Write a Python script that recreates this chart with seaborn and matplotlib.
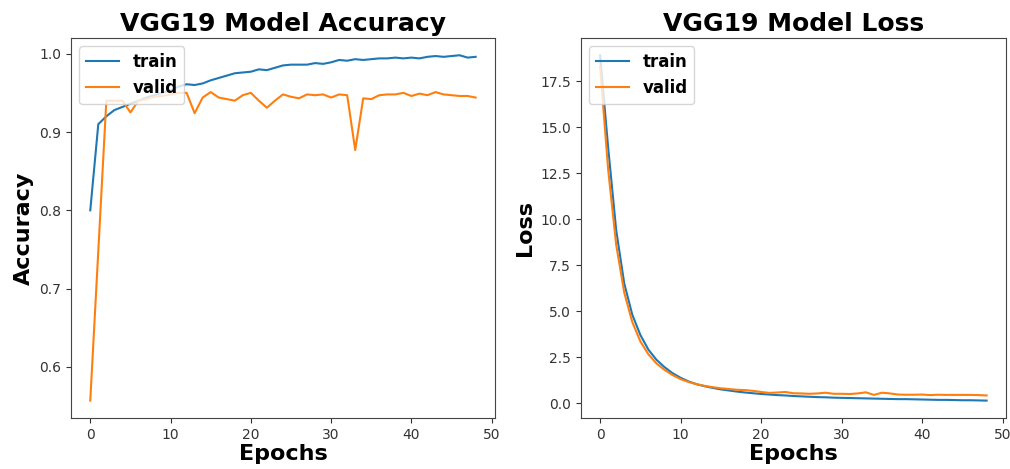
import numpy as np
import pandas as pd
import matplotlib
matplotlib.use("Agg")
import matplotlib.pyplot as plt
import seaborn as sns

epochs = list(range(49))

train_acc = [0.800, 0.910, 0.920, 0.928, 0.932, 0.936, 0.940, 0.944, 0.947, 0.950,
             0.953, 0.958, 0.961, 0.960, 0.962, 0.966, 0.969, 0.972, 0.975, 0.976,
             0.977, 0.980, 0.979, 0.982, 0.985, 0.986, 0.986, 0.986, 0.988, 0.987,
             0.989, 0.992, 0.991, 0.993, 0.992, 0.993, 0.994, 0.994, 0.995, 0.994,
             0.995, 0.994, 0.996, 0.997, 0.996, 0.997, 0.998, 0.995, 0.996]

valid_acc = [0.557, 0.748, 0.940, 0.940, 0.940, 0.925, 0.940, 0.942, 0.945, 0.946,
             0.948, 0.950, 0.950, 0.924, 0.944, 0.951, 0.944, 0.942, 0.940, 0.947,
             0.950, 0.940, 0.931, 0.940, 0.948, 0.945, 0.943, 0.948, 0.947, 0.948,
             0.944, 0.948, 0.947, 0.877, 0.943, 0.942, 0.947, 0.948, 0.948, 0.950,
             0.946, 0.949, 0.947, 0.951, 0.948, 0.947, 0.946, 0.946, 0.944]

train_loss = [18.9, 13.9, 9.4, 6.5, 4.8, 3.7, 2.9, 2.35, 1.95, 1.62,
              1.37, 1.17, 1.02, 0.91, 0.82, 0.74, 0.68, 0.62, 0.57, 0.53,
              0.49, 0.46, 0.43, 0.41, 0.38, 0.36, 0.34, 0.32, 0.31, 0.29,
              0.28, 0.27, 0.26, 0.25, 0.24, 0.23, 0.22, 0.21, 0.21, 0.20,
              0.19, 0.18, 0.17, 0.17, 0.16, 0.15, 0.15, 0.14, 0.13]

valid_loss = [18.3, 12.7, 8.6, 6.0, 4.4, 3.35, 2.65, 2.15, 1.8, 1.52,
              1.30, 1.14, 1.02, 0.93, 0.86, 0.80, 0.76, 0.72, 0.70, 0.66,
              0.60, 0.55, 0.57, 0.60, 0.53, 0.52, 0.50, 0.52, 0.56, 0.50,
              0.50, 0.49, 0.52, 0.58, 0.44, 0.56, 0.52, 0.46, 0.45, 0.45,
              0.46, 0.43, 0.45, 0.44, 0.44, 0.44, 0.44, 0.43, 0.41]

series_names = ["train", "valid"]
colors = ["#1f77b4", "#ff7f0e"]

acc_df = pd.DataFrame({
    "epoch": epochs * 2,
    "value": train_acc + valid_acc,
    "series": [series_names[0]] * len(epochs) + [series_names[1]] * len(epochs),
})
loss_df = pd.DataFrame({
    "epoch": epochs * 2,
    "value": train_loss + valid_loss,
    "series": [series_names[0]] * len(epochs) + [series_names[1]] * len(epochs),
})

plt.rcParams["font.family"] = ["DejaVu Sans"]

fig = plt.figure(figsize=(10.1, 4.69), dpi=100)
ax1 = fig.add_axes([0.0703, 0.109, 0.4197, 0.810])
ax2 = fig.add_axes([0.575, 0.109, 0.421, 0.810])

palette = dict(zip(series_names, colors))

for ax, df, title, ylabel in [
    (ax1, acc_df, "VGG19 Model Accuracy", "Accuracy"),
    (ax2, loss_df, "VGG19 Model Loss", "Loss"),
]:
    sns.lineplot(data=df, x="epoch", y="value", hue="series", palette=palette,
                 ax=ax, linewidth=1.5)
    ax.set_title(title, fontsize=18, fontweight="bold", pad=5)
    ax.set_xlabel("Epochs", fontsize=16, fontweight="bold", labelpad=2)
    ax.set_ylabel(ylabel, fontsize=16, fontweight="bold")
    ax.set_xticks([0, 10, 20, 30, 40, 50])
    for sp in ax.spines.values():
        sp.set_color("#444444")
    ax.tick_params(colors="#333333", labelsize=10)
    ax.legend(loc="upper left", prop={"weight": "bold", "size": 12})

ax1.set_yticks([0.6, 0.7, 0.8, 0.9, 1.0])
ax1.set_xlim(-2.4, 50.4)
ax2.set_yticks([0.0, 2.5, 5.0, 7.5, 10.0, 12.5, 15.0, 17.5])
ax2.set_xlim(-2.4, 50.4)

fig.savefig("out.png", dpi=100)
